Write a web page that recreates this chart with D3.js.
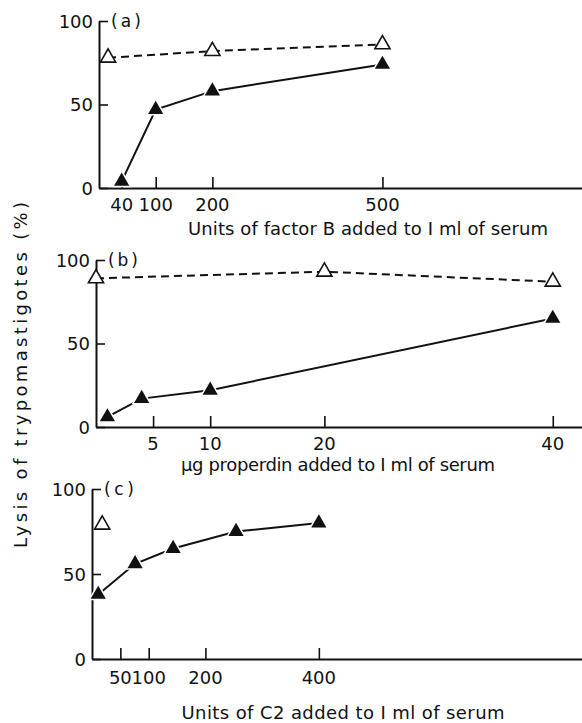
<!DOCTYPE html>
<html>
<head>
<meta charset="utf-8">
<script src="https://cdn.jsdelivr.net/npm/d3@7"></script>
<style>
  body { margin: 0; background: #fff; }
  svg text { font-family: "DejaVu Sans", sans-serif; fill: #111; }
</style>
</head>
<body>
<svg id="chart" width="582" height="723"></svg>
<script>
// panel (a): factor B
const aFilledX = [40, 100, 200, 500];
const aFilled  = [4, 47, 58, 74];
const aOpenX   = [16, 200, 500];
const aOpen    = [78, 82, 86];
const aTicks   = [40, 100, 200, 500];

// panel (b): properdin
const bFilledX = [1, 4, 10, 40];
const bFilled  = [6, 17, 22, 65];
const bOpenX   = [0, 20, 40];
const bOpen    = [89, 93, 87];
const bTicks   = [5, 10, 20, 40];

// panel (c): C2
const cFilledX = [11, 76, 143, 254, 400];
const cFilled  = [38, 56, 65, 75, 80];
const cOpenX   = [18];
const cOpen    = [79];
const cTicks   = [50, 100, 200, 400];

const yTicks = [0, 50, 100];

const svg = d3.select("#chart");
const W = 582;

const panels = [
  { tag: "(a)", x0: 99, xMax: 852, y0: 188, y100: 21, ticks: aTicks, tickLabY: 204,
    filled: aFilledX.map((x, i) => [x, aFilled[i]]), open: aOpenX.map((x, i) => [x, aOpen[i]]), openLine: true,
    label: "Units of  factor B added to I ml of serum", labX: 368, labY: 228, labLen: 360 },
  { tag: "(b)", x0: 96, xMax: 42.56, y0: 427, y100: 260, ticks: bTicks, tickLabY: 443,
    filled: bFilledX.map((x, i) => [x, bFilled[i]]), open: bOpenX.map((x, i) => [x, bOpen[i]]), openLine: true,
    label: "\u03bcg properdin added to I ml of serum", labX: 338, labY: 464, labLen: 314 },
  { tag: "(c)", x0: 92, xMax: 864, y0: 659, y100: 489, ticks: cTicks, tickLabY: 677,
    filled: cFilledX.map((x, i) => [x, cFilled[i]]), open: cOpenX.map((x, i) => [x, cOpen[i]]), openLine: false,
    label: "Units of C2 added to I ml of serum", labX: 343, labY: 712, labLen: 323 }
];

const tri = d3.symbol().type(d3.symbolTriangle).size(100);

panels.forEach(p => {
  const x = d3.scaleLinear().domain([0, p.xMax]).range([p.x0, W]);
  const y = d3.scaleLinear().domain([0, 100]).range([p.y0, p.y100]);
  const g = svg.append("g");

  // axes, ticks pointing inward
  const xAxis = d3.axisBottom(x).tickValues(p.ticks).tickSizeInner(-11).tickSizeOuter(0).tickFormat("");
  const yAxis = d3.axisLeft(y).tickValues(yTicks).tickSizeInner(-9).tickSizeOuter(0).tickFormat("");
  const gx = g.append("g").attr("transform", `translate(0,${p.y0})`).call(xAxis);
  const gy = g.append("g").attr("transform", `translate(${p.x0},0)`).call(yAxis);
  [gx, gy].forEach(a => {
    a.select(".domain").attr("stroke", "#111").attr("stroke-width", 2);
    a.selectAll(".tick line").attr("stroke", "#111").attr("stroke-width", 1.6);
  });

  // tick labels
  g.selectAll(".xl").data(p.ticks).join("text")
    .attr("x", d => x(d)).attr("y", p.tickLabY)
    .attr("text-anchor", "middle").attr("dominant-baseline", "central")
    .attr("font-size", 18).text(d => d);
  g.selectAll(".yl").data(yTicks).join("text")
    .attr("x", p.x0 - 6).attr("y", d => y(d))
    .attr("text-anchor", "end").attr("dominant-baseline", "central")
    .attr("font-size", 18).text(d => d);

  g.append("text").attr("x", x(0) + 12).attr("y", y(100))
    .attr("dominant-baseline", "central").attr("font-size", 17)
    .attr("textLength", 30).attr("lengthAdjust", "spacing").text(p.tag);

  g.append("text").attr("x", p.labX).attr("y", p.labY)
    .attr("text-anchor", "middle").attr("dominant-baseline", "central")
    .attr("font-size", 18).attr("textLength", p.labLen).attr("lengthAdjust", "spacing")
    .text(p.label);

  const line = d3.line().x(d => x(d[0])).y(d => y(d[1]));

  if (p.openLine) {
    g.append("path").datum(p.open).attr("d", line)
      .attr("fill", "none").attr("stroke", "#111").attr("stroke-width", 2)
      .attr("stroke-dasharray", "8,5");
  }
  g.append("path").datum(p.filled).attr("d", line)
    .attr("fill", "none").attr("stroke", "#111").attr("stroke-width", 2);

  g.selectAll(".op").data(p.open).join("path")
    .attr("d", tri).attr("transform", d => `translate(${x(d[0])},${y(d[1])})`)
    .attr("fill", "#fff").attr("stroke", "#111").attr("stroke-width", 1.6);
  g.selectAll(".fp").data(p.filled).join("path")
    .attr("d", tri).attr("transform", d => `translate(${x(d[0])},${y(d[1])})`)
    .attr("fill", "#111").attr("stroke", "#fff").attr("stroke-width", 3)
    .attr("paint-order", "stroke");
});

svg.append("text")
  .attr("transform", "translate(20,375) rotate(-90)")
  .attr("text-anchor", "middle").attr("dominant-baseline", "central")
  .attr("font-size", 18).attr("textLength", 346).attr("lengthAdjust", "spacing")
  .text("Lysis of trypomastigotes (%)");
</script>
</body>
</html>
